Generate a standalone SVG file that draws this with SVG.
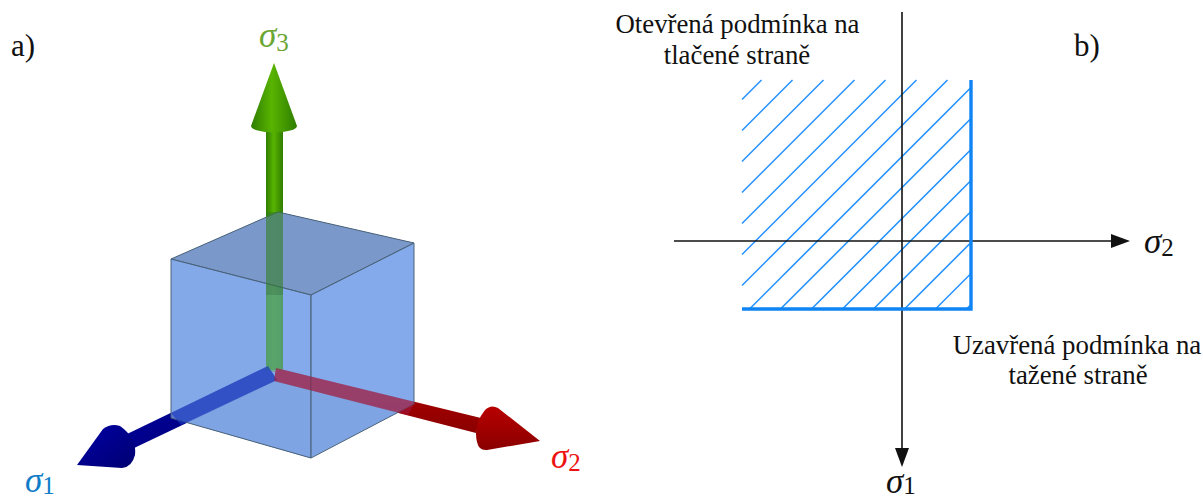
<svg xmlns="http://www.w3.org/2000/svg" width="1203" height="499" viewBox="0 0 1203 499">
<style>
text{font-family:"Liberation Serif","Times New Roman",serif;fill:#111}
.lab{font-size:26.800px;text-anchor:middle}
.tag{font-size:31px}
.sig{font-size:35px;font-style:italic}
.sub{font-size:25px;font-style:normal}
.hatch line{stroke:#1e8fff;stroke-width:1.5}
.axis{stroke:#111;stroke-width:1.6;fill:none}
</style>
<defs>
<linearGradient id="gs" x1="0" x2="1" y1="0" y2="0"><stop offset="0" stop-color="#2f7d00"/><stop offset=".45" stop-color="#58b400"/><stop offset="1" stop-color="#2f7d00"/></linearGradient>
<linearGradient id="gb" x1="0" x2="1" y1="0" y2="1"><stop offset="0" stop-color="#0000a8"/><stop offset="1" stop-color="#000070"/></linearGradient>
<linearGradient id="gr" x1="0" x2="0" y1="0" y2="1"><stop offset="0" stop-color="#b80000"/><stop offset="1" stop-color="#8a0000"/></linearGradient>
</defs>
<g id="cube-back">
<path d="M273 372L171 418L310 458L414 404Z" fill="#7f9fdc"/>
<path d="M171 259L278 212L273 372L171 418Z" fill="#8fb0ee"/>
<path d="M278 212L414 243V404L273 372Z" fill="#8fb4f4"/>
</g>
<g id="axes-3d">
<g id="arrow-s3">
<rect x="266" y="128" width="17" height="244" fill="url(#gs)"/>
<path d="M274 63L297 126A23 6.500 0 0 1 251 126Z" fill="url(#gs)"/>
</g>
<g id="arrow-s1">
<path d="M268 366L277 380L132 449L125 435Z" fill="url(#gb)"/>
<path d="M77 465L103 429Q111 423 120 426Q137 438 135 455Q132 467 122 468Z" fill="url(#gb)"/>
</g>
<g id="arrow-s2">
<path d="M276 368L274 381L476 433L481 418Z" fill="url(#gr)"/>
<path d="M540 441L498 408Q491 404 485 410Q473 425 477 442Q479 451 487 450Z" fill="url(#gr)"/>
</g>
</g>
<g id="cube-front">
<path d="M171 259L278 212L414 243L311 295Z" fill="#7a96c8" fill-opacity=".94" stroke="#4a6278"/>
<path d="M171 259L311 295V458L171 418Z" fill="#7fa6e8" fill-opacity=".72" stroke="#4a6278"/>
<path d="M311 295L414 243V404L311 458Z" fill="#7fa6e8" fill-opacity=".72" stroke="#4a6278"/>
</g>
<g id="axes-front">
<rect x="266" y="212" width="17" height="83" fill="#2f7d20" fill-opacity=".55"/>
<rect x="266" y="295" width="17" height="75" fill="#3f9f30" fill-opacity=".5"/>
<path d="M268 366L277 380L181 425L171 413Z" fill="#1a3cc0" fill-opacity=".65"/>
<path d="M276 368L274 381L408 415L415 402Z" fill="#a01840" fill-opacity=".6"/>
</g>
<text id="label-a" class="tag" x="11" y="56">a)</text>
<text id="label-s3" class="sig" x="259" y="47" style="fill:#6aa632">σ<tspan class="sub" dy="4">3</tspan></text>
<text id="label-s1" class="sig" x="25" y="492" style="fill:#0f7cc8">σ<tspan class="sub" dy="2">1</tspan></text>
<text id="label-s2" class="sig" x="551" y="468" style="fill:#ee1111">σ<tspan class="sub" dy="3">2</tspan></text>
<g id="hatch" class="hatch">
<line x1="761.500" y1="80" x2="742" y2="99.500"/>
<line x1="792.500" y1="80" x2="742" y2="130.500"/>
<line x1="823.500" y1="80" x2="742" y2="161.500"/>
<line x1="854.500" y1="80" x2="742" y2="192.500"/>
<line x1="885.500" y1="80" x2="742" y2="223.500"/>
<line x1="916.500" y1="80" x2="742" y2="254.500"/>
<line x1="947.500" y1="80" x2="742" y2="285.500"/>
<line x1="971" y1="87.500" x2="749.500" y2="309"/>
<line x1="971" y1="118.500" x2="780.500" y2="309"/>
<line x1="971" y1="149.500" x2="811.500" y2="309"/>
<line x1="971" y1="180.500" x2="842.500" y2="309"/>
<line x1="971" y1="211.500" x2="873.500" y2="309"/>
<line x1="971" y1="242.500" x2="904.500" y2="309"/>
<line x1="971" y1="273.500" x2="935.500" y2="309"/>
<line x1="971" y1="304.500" x2="966.500" y2="309"/>
</g>
<g id="connectors">
<path class="axis" d="M902 12V450"/>
<path d="M895 448H909L902 467Z" fill="#111"/>
<path class="axis" d="M674 241H1113"/>
<path d="M1111 234L1130 241L1111 248Z" fill="#111"/>
</g>
<path id="boundary" d="M971 80V309H742" fill="none" stroke="#0f85f5" stroke-width="3.400"/>
<text id="label-open" class="lab"><tspan x="737.500" y="33">Otevřená podmínka na</tspan><tspan x="737" y="64">tlačené straně</tspan></text>
<text id="label-b" class="tag" x="1074" y="56">b)</text>
<text id="label-closed" class="lab"><tspan x="1077" y="354">Uzavřená podmínka na</tspan><tspan x="1078" y="384">tažené straně</tspan></text>
<text id="label-s2b" class="sig" x="1144" y="253">σ<tspan class="sub" dy="3">2</tspan></text>
<text id="label-s1b" class="sig" x="886" y="493">σ<tspan class="sub" dy="1">1</tspan></text>
</svg>
